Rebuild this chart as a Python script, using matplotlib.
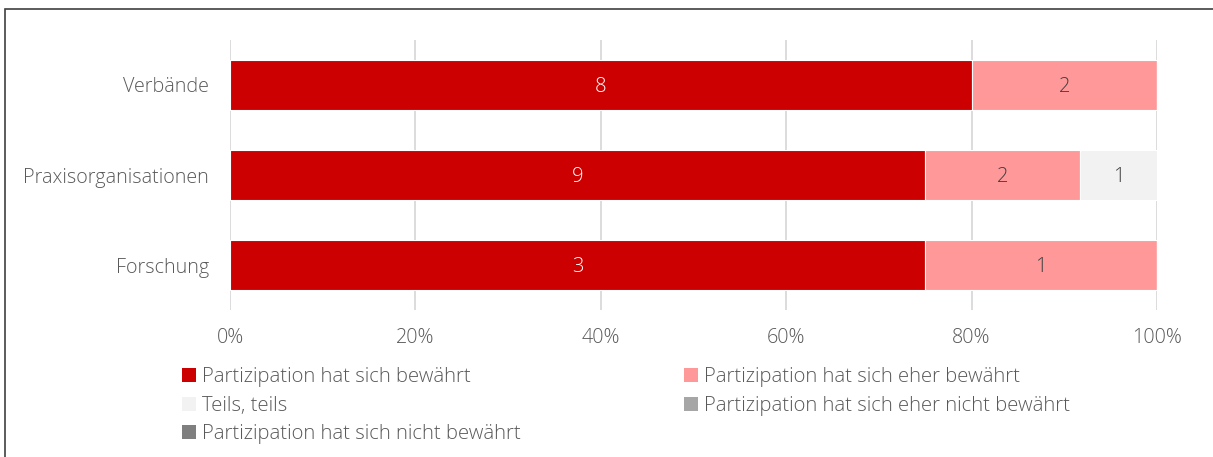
import matplotlib.pyplot as plt
from matplotlib.patches import Rectangle, Patch
import numpy as np

plt.rcParams['font.family'] = ['Open Sans', 'DejaVu Sans']
plt.rcParams['font.weight'] = 'light'

# Daten
kategorien = ['Verbände', 'Praxisorganisationen', 'Forschung']
bewaehrt = [8, 9, 3]
eher_bewaehrt = [2, 2, 1]
teils = [0, 1, 0]
eher_nicht = [0, 0, 0]
nicht = [0, 0, 0]

serien_namen = ['Partizipation hat sich bewährt',
                'Partizipation hat sich eher bewährt',
                'Teils, teils',
                'Partizipation hat sich eher nicht bewährt',
                'Partizipation hat sich nicht bewährt']
farben = ['#CC0000', '#FF9999', '#F2F2F2', '#A6A6A6', '#7F7F7F']
textfarben = ['white', '#404040', '#404040', '#404040', 'white']
x_ticks = [0, 0.2, 0.4, 0.6, 0.8, 1.0]
x_ticklabels = ['0%', '20%', '40%', '60%', '80%', '100%']

grau = '#595959'

fig = plt.figure(figsize=(12.13, 4.57), dpi=100)
ax = fig.add_axes([230 / 1213, 1 - 310 / 457, 927 / 1213, 270 / 457])

daten = np.array([bewaehrt, eher_bewaehrt, teils, eher_nicht, nicht], dtype=float)
summen = daten.sum(axis=0)
anteile = daten / summen
y = np.arange(len(kategorien))

links = np.zeros(len(kategorien))
for i in range(len(serien_namen)):
    bars = ax.barh(y, anteile[i], left=links, height=0.55, color=farben[i],
                   edgecolor='white', linewidth=0.8, zorder=3)
    for j, b in enumerate(bars):
        if daten[i, j] > 0:
            ax.text(links[j] + anteile[i, j] / 2, y[j] + 0.02, '%d' % daten[i, j],
                    ha='center', va='center', fontsize=14.5,
                    color=textfarben[i], zorder=4)
    links += anteile[i]

ax.set_ylim(2.5, -0.5)
ax.set_xlim(0, 1)
ax.set_yticks(y)
ax.set_yticklabels(kategorien, fontsize=14.2, color=grau)
ax.set_xticks(x_ticks)
ax.set_xticklabels(x_ticklabels, fontsize=14.2, color=grau)
ax.tick_params(axis='y', length=0, pad=15)
ax.tick_params(axis='x', length=0, pad=13)
ax.grid(axis='x', color='#D9D9D9', linewidth=1.3, zorder=0)
for s in ax.spines.values():
    s.set_visible(False)

# Legende in zwei Spalten
handles = [Patch(facecolor=c, edgecolor='none') for c in farben]
leg_args = dict(frameon=False, fontsize=14.6, handlelength=0.68, handleheight=0.68,
                handletextpad=0.3, labelspacing=0.43, labelcolor=grau,
                loc='upper left', borderaxespad=0, borderpad=0)
leg1 = fig.legend([handles[0], handles[2], handles[4]],
                  [serien_namen[0], serien_namen[2], serien_namen[4]],
                  bbox_to_anchor=(182 / 1213, 1 - 367 / 457), **leg_args)
leg2 = fig.legend([handles[1], handles[3]],
                  [serien_namen[1], serien_namen[3]],
                  bbox_to_anchor=(684 / 1213, 1 - 367 / 457), **leg_args)

# Rahmen
fig.patches.append(Rectangle((5 / 1213, -0.1), 1.2, 1 - 9 / 457 + 0.1,
                             transform=fig.transFigure, fill=False,
                             edgecolor='#404040', linewidth=1.2))

fig.savefig('out.png', dpi=100)
